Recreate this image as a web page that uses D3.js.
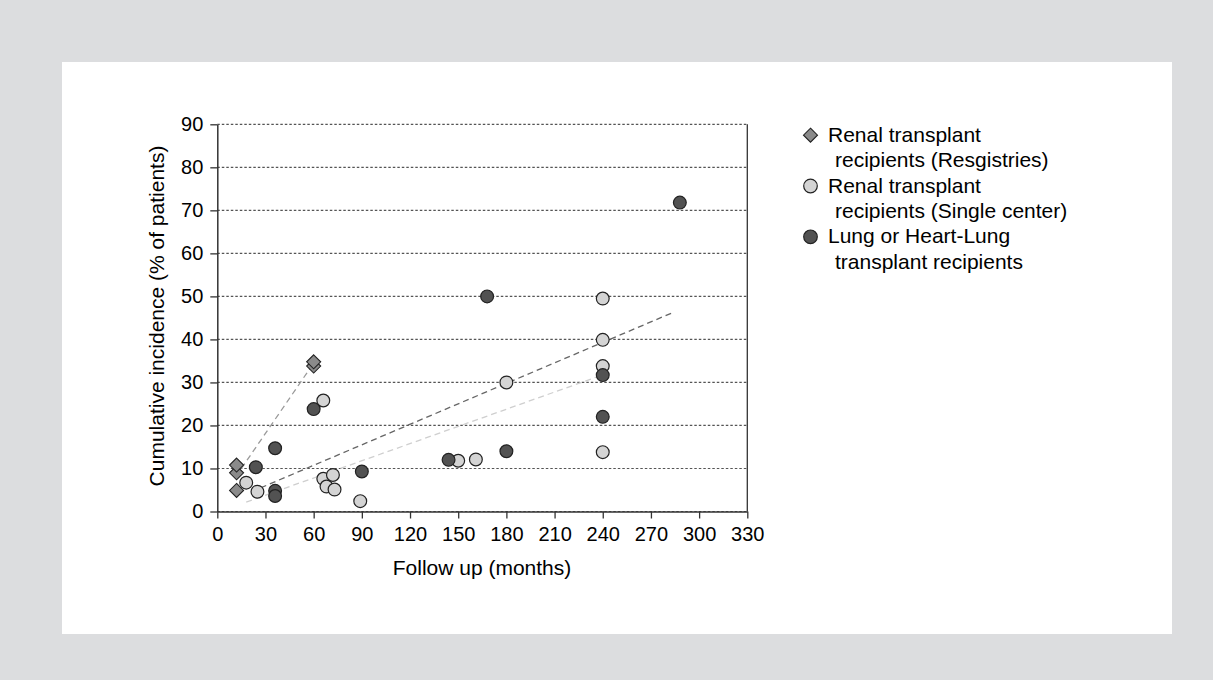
<!DOCTYPE html>
<html>
<head>
<meta charset="utf-8">
<script src="https://cdn.jsdelivr.net/npm/d3@7"></script>
<style>
  html, body { margin: 0; padding: 0; background: #dcdddf; }
  svg { display: block; font-family: "Liberation Sans", Arial, sans-serif; }
</style>
</head>
<body>
<svg id="chart" width="1213" height="680"></svg>
<script>
// values (months, % of patients)
const registryMonths = [12, 12, 12, 60, 60]
const registryValues = [4.9, 9.0, 10.8, 33.8, 34.8]

const singleMonths = [18, 25, 66, 66, 68, 72, 73, 89, 150, 161, 180, 240, 240, 240, 240]
const singleValues = [6.7, 4.6, 25.8, 7.6, 5.8, 8.5, 5.1, 2.4, 11.8, 12.1, 30, 49.5, 39.9, 33.8, 13.8]

const lungMonths = [24, 36, 36, 36, 60, 90, 144, 168, 180, 240, 240, 288]
const lungValues = [10.3, 14.7, 4.8, 3.6, 23.8, 9.3, 12, 50, 14, 31.7, 22, 71.8]

// dashed trend lines: [start, end] as [month, value]
const registryTrend = [[15, 10], [60, 34.5]]
const lungTrend = [[27, 5.5], [284, 46.3]]
const singleTrend = [[18, 2.2], [238, 31.5]]

const xTicks = d3.range(0, 331, 30)
const yTicks = d3.range(0, 91, 10)

const legendLabels = [
    ["Renal transplant", "recipients (Resgistries)"],
    ["Renal transplant", "recipients (Single center)"],
    ["Lung or Heart-Lung", "transplant recipients"]
]

const colDiamond = "#8a8a8a"
const colLight = "#d4d4d4"
const colDark = "#525252"
const colStroke = "#222"

const svg = d3.select("#chart")

// white panel
svg.append("rect")
    .attr("x", 62).attr("y", 62)
    .attr("width", 1110).attr("height", 572)
    .attr("fill", "#fff")

const x = d3.scaleLinear().domain([0, 330]).range([217.3, 747.3])
const y = d3.scaleLinear().domain([0, 90]).range([511.5, 124.3])

// grid lines (dotted)
svg.append("g")
    .selectAll("line")
    .data(yTicks)
    .join("line")
    .attr("x1", x(0)).attr("x2", x(330))
    .attr("y1", d => y(d)).attr("y2", d => y(d))
    .attr("stroke", "#555")
    .attr("stroke-width", 1.2)
    .attr("stroke-dasharray", "2.5 2")

// right border
svg.append("line")
    .attr("x1", x(330)).attr("x2", x(330))
    .attr("y1", y(90)).attr("y2", y(0))
    .attr("stroke", "#333").attr("stroke-width", 1.3)

const xAxis = svg.append("g")
    .attr("transform", `translate(0,${y(0)})`)
    .call(d3.axisBottom(x).tickValues(xTicks).tickSize(7).tickPadding(8).tickSizeOuter(0))
xAxis.select(".domain").attr("stroke", "#333").attr("stroke-width", 1.3)
xAxis.selectAll(".tick line").attr("stroke", "#333").attr("stroke-width", 1.3)
xAxis.selectAll("text").attr("font-size", 20).attr("fill", "#000")
    .attr("font-family", "Liberation Sans, Arial, sans-serif")

const yAxis = svg.append("g")
    .attr("transform", `translate(${x(0)},0)`)
    .call(d3.axisLeft(y).tickValues(yTicks).tickSize(7).tickPadding(7).tickSizeOuter(0))
yAxis.select(".domain").attr("stroke", "#333").attr("stroke-width", 1.5)
yAxis.selectAll(".tick line").attr("stroke", "#333").attr("stroke-width", 1.3)
yAxis.selectAll("text").attr("font-size", 20).attr("fill", "#000")
    .attr("font-family", "Liberation Sans, Arial, sans-serif")

// axis titles
svg.append("text")
    .attr("x", 482).attr("y", 575)
    .attr("text-anchor", "middle")
    .attr("font-size", 21).attr("fill", "#000")
    .text("Follow up (months)")

svg.append("text")
    .attr("transform", "translate(164,316) rotate(-90)")
    .attr("text-anchor", "middle")
    .attr("font-size", 21).attr("fill", "#000")
    .text("Cumulative incidence (% of patients)")

// trend lines
const line = d3.line().x(d => x(d[0])).y(d => y(d[1]))
const trends = [
    { pts: registryTrend, color: "#9a9a9a" },
    { pts: lungTrend, color: "#666" },
    { pts: singleTrend, color: "#cfcfcf" }
]
svg.append("g")
    .selectAll("path")
    .data(trends)
    .join("path")
    .attr("d", d => line(d.pts))
    .attr("fill", "none")
    .attr("stroke", d => d.color)
    .attr("stroke-width", 1.3)
    .attr("stroke-dasharray", "6 4")

const pts = (ms, vs) => ms.map((m, i) => [m, vs[i]])
const r = 6.4

// single center (light circles)
svg.append("g")
    .selectAll("circle")
    .data(pts(singleMonths, singleValues))
    .join("circle")
    .attr("cx", d => x(d[0])).attr("cy", d => y(d[1]))
    .attr("r", r)
    .attr("fill", colLight).attr("stroke", colStroke).attr("stroke-width", 1.2)

// lung or heart-lung (dark circles)
svg.append("g")
    .selectAll("circle")
    .data(pts(lungMonths, lungValues))
    .join("circle")
    .attr("cx", d => x(d[0])).attr("cy", d => y(d[1]))
    .attr("r", r)
    .attr("fill", colDark).attr("stroke", colStroke).attr("stroke-width", 1.2)

// registries (diamonds)
const diamond = s => `M0,${-s}L${s},0L0,${s}L${-s},0Z`
svg.append("g")
    .selectAll("path")
    .data(pts(registryMonths, registryValues))
    .join("path")
    .attr("transform", d => `translate(${x(d[0])},${y(d[1])})`)
    .attr("d", diamond(7))
    .attr("fill", colDiamond).attr("stroke", colStroke).attr("stroke-width", 1.1)

// legend
const legend = svg.append("g").attr("font-size", 21).attr("fill", "#000")
const lineGap = 25.4
const firstBase = 141.7
legendLabels.forEach((lines, i) => {
    const b = firstBase + i * 2 * lineGap
    const cy = b - 6.5
    if (i === 0) {
        legend.append("path")
            .attr("transform", `translate(810.5,${cy})`)
            .attr("d", diamond(7))
            .attr("fill", colDiamond).attr("stroke", colStroke).attr("stroke-width", 1.1)
    } else {
        legend.append("circle")
            .attr("cx", 810.5).attr("cy", cy).attr("r", 6.8)
            .attr("fill", i === 1 ? colLight : colDark)
            .attr("stroke", colStroke).attr("stroke-width", 1.2)
    }
    legend.append("text").attr("x", 828).attr("y", b).text(lines[0])
    legend.append("text").attr("x", 835).attr("y", b + lineGap).text(lines[1])
})
</script>
</body>
</html>
